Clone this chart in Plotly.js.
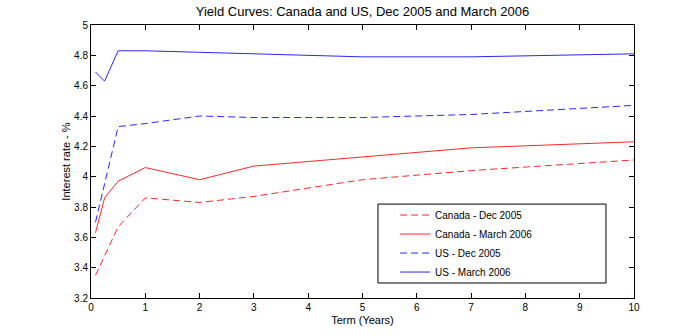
<!DOCTYPE html>
<html>
<head>
<meta charset="utf-8">
<script src="https://cdn.plot.ly/plotly-3.0.1.min.js"></script>
<style>html,body{margin:0;padding:0;background:#fff;}#chart{width:700px;height:336px;}</style>
</head>
<body>
<div id="chart"></div>
<script>
// Term (years)
const terms = [0.083, 0.25, 0.5, 1, 2, 3, 5, 7, 10];
// Interest rates (%)
const canadaDec2005 = [3.35, 3.48, 3.67, 3.86, 3.83, 3.87, 3.98, 4.04, 4.11];
const canadaMar2006 = [3.63, 3.86, 3.97, 4.06, 3.98, 4.07, 4.13, 4.19, 4.23];
const usDec2005     = [3.70, 3.95, 4.33, 4.35, 4.40, 4.39, 4.39, 4.41, 4.47];
const usMar2006     = [4.69, 4.63, 4.83, 4.83, 4.82, 4.81, 4.79, 4.79, 4.81];
const seriesNames = ['Canada - Dec 2005', 'Canada - March 2006', 'US - Dec 2005', 'US - March 2006'];

const RED = 'rgb(255,40,40)', BLUE = 'rgb(40,40,255)', DASH = '7px,4px';
const traces = [
  {x: terms, y: canadaDec2005, name: seriesNames[0], line: {color: RED, width: 1, dash: DASH}},
  {x: terms, y: canadaMar2006, name: seriesNames[1], line: {color: RED, width: 1}},
  {x: terms, y: usDec2005, name: seriesNames[2], line: {color: BLUE, width: 1, dash: DASH}},
  {x: terms, y: usMar2006, name: seriesNames[3], line: {color: BLUE, width: 1}}
].map(t => Object.assign({type: 'scatter', mode: 'lines', hoverinfo: 'skip'}, t));

const axisCommon = {
  showgrid: false, zeroline: false, showline: true, linecolor: '#000', linewidth: 1,
  mirror: 'ticks', ticks: 'inside', ticklen: 5, tickcolor: '#000',
  tickfont: {family: 'Liberation Sans, Arial', size: 10, color: '#000'}
};

const layout = {
  width: 700, height: 336,
  margin: {l: 91, r: 66, t: 25, b: 38, pad: 0},
  paper_bgcolor: '#fff', plot_bgcolor: '#fff',
  font: {family: 'Liberation Sans, Arial', color: '#000'},
  title: {text: 'Yield Curves: Canada and US, Dec 2005 and March 2006',
          font: {size: 13, color: '#000'}, x: 0.5, xref: 'paper', xanchor: 'center', y: 0.965, yanchor: 'middle'},
  xaxis: Object.assign({}, axisCommon, {range: [0, 10], dtick: 1, tick0: 0,
          title: {text: 'Term (Years)', font: {size: 11}, standoff: 4}}),
  yaxis: Object.assign({}, axisCommon, {range: [3.2, 5], dtick: 0.2, tick0: 3.2,
          title: {text: 'Interest rate - %', font: {size: 11}, standoff: 1}}),
  showlegend: true,
  legend: {x: 0.56, y: 0.357, xanchor: 'left', yanchor: 'top', bgcolor: 'rgba(0,0,0,0)',
           borderwidth: 0, font: {size: 10, color: '#000'}, tracegroupgap: 0},
  shapes: [{type: 'rect', xref: 'paper', yref: 'paper', x0: 0.5285, x1: 0.9484, y0: 0.055, y1: 0.344,
            line: {color: '#000', width: 1}, fillcolor: '#fff', layer: 'below'}]
};

Plotly.newPlot('chart', traces, layout, {displayModeBar: false, staticPlot: true});
</script>
</body>
</html>
